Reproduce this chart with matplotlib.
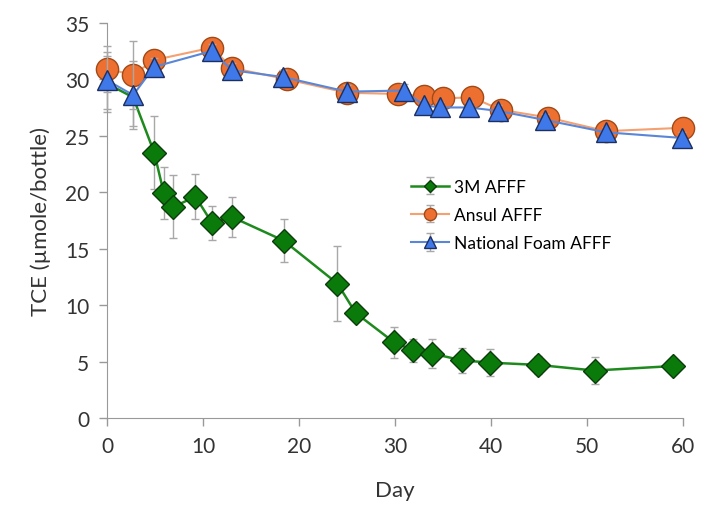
import matplotlib
matplotlib.use("Agg")
import matplotlib.pyplot as plt

plt.rcParams['font.family'] = ['Lato', 'DejaVu Sans']

# 3M AFFF
days_3m = [0, 2.7, 4.9, 5.9, 6.9, 9.2, 10.9, 13, 18.4, 24, 25.9, 29.9, 31.9, 33.9, 37, 39.9, 44.9, 50.8, 59]
tce_3m = [29.6, 28.4, 23.5, 19.9, 18.7, 19.6, 17.3, 17.8, 15.7, 11.9, 9.3, 6.7, 6.0, 5.7, 5.1, 4.9, 4.7, 4.2, 4.6]
err_3m = [2.5, 2.5, 3.2, 2.3, 2.8, 2.0, 1.5, 1.8, 1.9, 3.3, 0.5, 1.4, 1.0, 1.3, 1.1, 1.2, 0.8, 1.2, 0.6]

# Ansul AFFF
days_ansul = [0, 2.7, 4.9, 10.9, 13, 18.7, 25, 30.3, 33, 35, 38, 41, 46, 52, 60]
tce_ansul = [30.9, 30.4, 31.7, 32.8, 31.0, 30.0, 28.8, 28.7, 28.5, 28.3, 28.4, 27.3, 26.6, 25.4, 25.7]
err_ansul = [2.0, 3.0, 0.8, 0.6, 0.6, 0.6, 0.6, 0.6, 0.5, 0.5, 0.5, 0.5, 0.5, 0.5, 0.5]

# National Foam AFFF
days_nat = [0, 2.7, 4.9, 10.9, 13, 18.3, 25, 30.9, 33, 34.7, 37.7, 40.7, 45.6, 52, 59.9]
tce_nat = [29.9, 28.6, 31.1, 32.5, 30.8, 30.2, 28.9, 29.0, 27.7, 27.5, 27.5, 27.2, 26.4, 25.3, 24.8]
err_nat = [2.5, 3.0, 0.8, 0.6, 0.6, 0.6, 0.6, 0.6, 0.5, 0.5, 0.5, 0.5, 0.5, 0.5, 0.5]

fig = plt.figure(figsize=(7.01, 5.06), dpi=100)
ax = fig.add_axes([0.153, 0.172, 0.821, 0.781])

ebar = dict(ecolor='#a8a8a8', elinewidth=1, capsize=3, capthick=1)

# first two 3M points sit under the other markers in the original
ax.errorbar(days_3m, tce_3m, yerr=err_3m, color='#1e8a1e', lw=1.8,
            marker='D', ms=12, mfc='#0a7a0a', mec='#0b3d0b', mew=1,
            markevery=slice(2, None), label='3M AFFF', zorder=2, **ebar)
ax.errorbar(days_ansul, tce_ansul, yerr=err_ansul, color='#f4a070', lw=1.5,
            marker='o', ms=16, mfc='#ee7030', mec='#a04a18', mew=1,
            label='Ansul AFFF', zorder=3, **ebar)
ax.errorbar(days_nat, tce_nat, yerr=err_nat, color='#5a86d8', lw=1.5,
            marker='^', ms=15, mfc='#3f78e8', mec='#1c2f60', mew=1,
            label='National Foam AFFF', zorder=4, **ebar)

ax.set_xlim(0, 60)
ax.set_ylim(0, 35)
ax.set_xticks(range(0, 61, 10))
ax.set_yticks(range(0, 36, 5))
ax.set_xlabel('Day', fontsize=16, color='#333333', labelpad=17)
ax.set_ylabel('TCE (µmole/bottle)', fontsize=16, color='#333333', labelpad=10)
ax.tick_params(labelsize=15, labelcolor='#333333', direction='out', length=6, width=1,
               color='#999999', pad=7)
for s in ['top', 'right']:
    ax.spines[s].set_visible(False)
for s in ['left', 'bottom']:
    ax.spines[s].set_color('#999999')
for c in ax.get_children():
    try:
        c.set_clip_on(False)
    except Exception:
        pass

leg = ax.legend(loc='upper left', bbox_to_anchor=(0.5, 0.645), frameon=False,
                fontsize=12.5, handlelength=2.2, handletextpad=0.3, labelspacing=0.7,
                markerscale=0.55)

fig.savefig('out.png', dpi=100)
